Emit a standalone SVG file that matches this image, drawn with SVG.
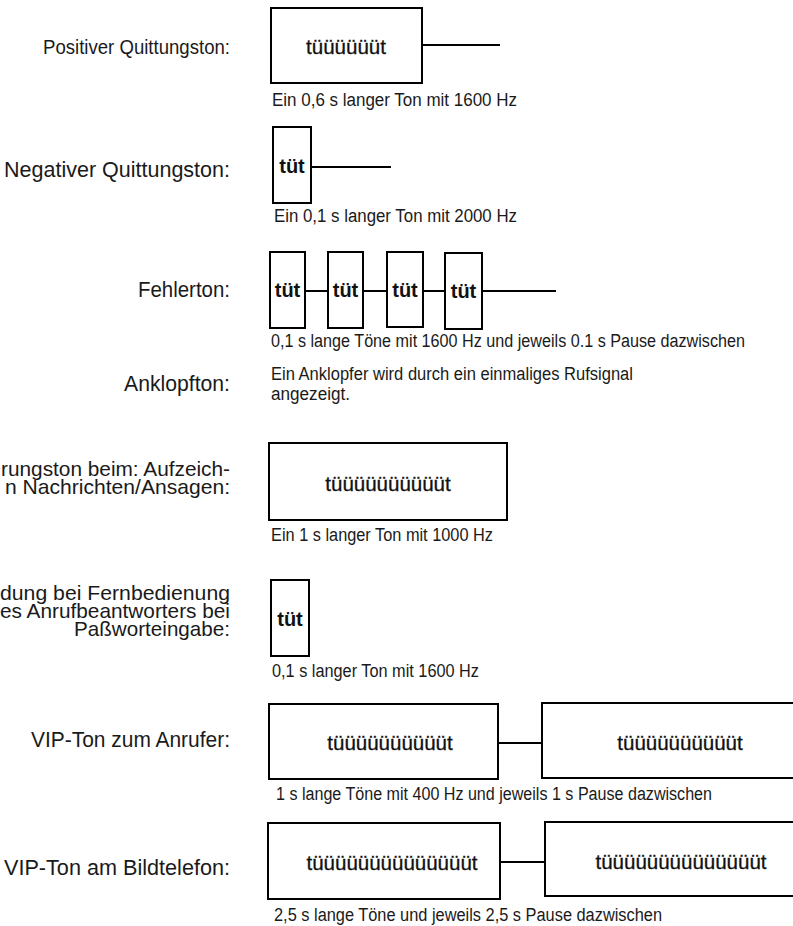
<svg xmlns="http://www.w3.org/2000/svg" width="793" height="926" viewBox="0 0 793 926">
<style>
.bg{fill:#fff}
.box{fill:#fff;stroke:#000;stroke-width:2}
.ln{stroke:#000;stroke-width:2;fill:none}
.lbl{font-family:"Liberation Sans",Arial,sans-serif;font-size:22px;fill:#1a1a1a;text-anchor:end}
.ml{font-size:21px}
.cap{font-family:"Liberation Sans",Arial,sans-serif;font-size:18px;fill:#1a1a1a}
.tone{font-family:"Liberation Sans",Arial,sans-serif;font-size:20.5px;fill:#111;stroke:#111;stroke-width:0.3;text-anchor:middle}
.tut{font-family:"Liberation Sans",Arial,sans-serif;font-size:20px;font-weight:bold;fill:#111;text-anchor:middle}
</style>
<rect class="bg" x="0" y="0" width="793" height="926"/>

<g id="labels">
<text class="lbl" x="230" y="54" style="font-size:20px" textLength="187" lengthAdjust="spacingAndGlyphs">Positiver Quittungston:</text>
<text class="lbl" x="230" y="177" textLength="226" lengthAdjust="spacingAndGlyphs">Negativer Quittungston:</text>
<text class="lbl" x="230" y="297" textLength="92" lengthAdjust="spacingAndGlyphs">Fehlerton:</text>
<text class="lbl" x="230" y="391" textLength="106" lengthAdjust="spacingAndGlyphs">Anklopfton:</text>
<text class="lbl ml" x="230" y="476" textLength="229" lengthAdjust="spacingAndGlyphs">rungston beim: Aufzeich-</text>
<text class="lbl ml" x="230" y="494" textLength="225" lengthAdjust="spacingAndGlyphs">n Nachrichten/Ansagen:</text>
<text class="lbl ml" x="230" y="600" textLength="230" lengthAdjust="spacingAndGlyphs">dung bei Fernbedienung</text>
<text class="lbl ml" x="230" y="618" textLength="230" lengthAdjust="spacingAndGlyphs">es Anrufbeantworters bei</text>
<text class="lbl ml" x="230" y="636" textLength="156" lengthAdjust="spacingAndGlyphs">Paßworteingabe:</text>
<text class="lbl" x="230" y="747" textLength="199" lengthAdjust="spacingAndGlyphs">VIP-Ton zum Anrufer:</text>
<text class="lbl" x="230" y="875" textLength="226" lengthAdjust="spacingAndGlyphs">VIP-Ton am Bildtelefon:</text>
</g>

<g id="connectors">
<line class="ln" x1="422" y1="45" x2="500" y2="45"/>
<line class="ln" x1="311" y1="167" x2="391" y2="167"/>
<line class="ln" x1="305" y1="291" x2="328" y2="291"/>
<line class="ln" x1="363" y1="291" x2="387" y2="291"/>
<line class="ln" x1="423" y1="291" x2="445" y2="291"/>
<line class="ln" x1="482" y1="291" x2="556" y2="291"/>
<line class="ln" x1="498" y1="743" x2="542" y2="743"/>
<line class="ln" x1="500" y1="862" x2="545" y2="862"/>
</g>

<g id="pos">
<rect class="box" x="271" y="8" width="151" height="75"/>
<text class="tone" x="346" y="54">tüüüüüüt</text>
<text class="cap" x="272" y="106" textLength="245" lengthAdjust="spacingAndGlyphs">Ein 0,6 s langer Ton mit 1600 Hz</text>
</g>

<g id="neg">
<rect class="box" x="273" y="127" width="38" height="76"/>
<text class="tut" x="292" y="173">tüt</text>
<text class="cap" x="274" y="222" textLength="243" lengthAdjust="spacingAndGlyphs">Ein 0,1 s langer Ton mit 2000 Hz</text>
</g>

<g id="fehler">
<rect class="box" x="270" y="252" width="35" height="76"/>
<text class="tut" x="287.5" y="297">tüt</text>
<rect class="box" x="328" y="252" width="35" height="76"/>
<text class="tut" x="345.5" y="297">tüt</text>
<rect class="box" x="387" y="252" width="36" height="75"/>
<text class="tut" x="405" y="297">tüt</text>
<rect class="box" x="445" y="253" width="37" height="76"/>
<text class="tut" x="463.5" y="298">tüt</text>
<text class="cap" x="271" y="347" textLength="474" lengthAdjust="spacingAndGlyphs">0,1 s lange Töne mit 1600 Hz und jeweils 0.1 s Pause dazwischen</text>
</g>

<g id="anklopf">
<text class="cap" x="271" y="380" textLength="362" lengthAdjust="spacingAndGlyphs">Ein Anklopfer wird durch ein einmaliges Rufsignal</text>
<text class="cap" x="271" y="400" textLength="79" lengthAdjust="spacingAndGlyphs">angezeigt.</text>
</g>

<g id="aufzeichnung">
<rect class="box" x="269" y="443" width="238" height="77"/>
<text class="tone" x="388" y="491">tüüüüüüüüüüt</text>
<text class="cap" x="271" y="541" textLength="222" lengthAdjust="spacingAndGlyphs">Ein 1 s langer Ton mit 1000 Hz</text>
</g>

<g id="passwort">
<rect class="box" x="271" y="580" width="38" height="76"/>
<text class="tut" x="290" y="626">tüt</text>
<text class="cap" x="272" y="677" textLength="207" lengthAdjust="spacingAndGlyphs">0,1 s langer Ton mit 1600 Hz</text>
</g>

<g id="vip-anrufer">
<rect class="box" x="269" y="704" width="229" height="75"/>
<text class="tone" x="390" y="750">tüüüüüüüüüüt</text>
<rect class="box" x="542" y="703" width="280" height="75"/>
<text class="tone" x="680" y="750">tüüüüüüüüüüt</text>
<text class="cap" x="276" y="800" textLength="436" lengthAdjust="spacingAndGlyphs">1 s lange Töne mit 400 Hz und jeweils 1 s Pause dazwischen</text>
</g>

<g id="vip-bild">
<rect class="box" x="268" y="823" width="232" height="76"/>
<text class="tone" x="392" y="870">tüüüüüüüüüüüüüüt</text>
<rect class="box" x="545" y="822" width="280" height="74"/>
<text class="tone" x="681" y="869">tüüüüüüüüüüüüüüt</text>
<text class="cap" x="274" y="921" textLength="388" lengthAdjust="spacingAndGlyphs">2,5 s lange Töne und jeweils 2,5 s Pause dazwischen</text>
</g>
</svg>
